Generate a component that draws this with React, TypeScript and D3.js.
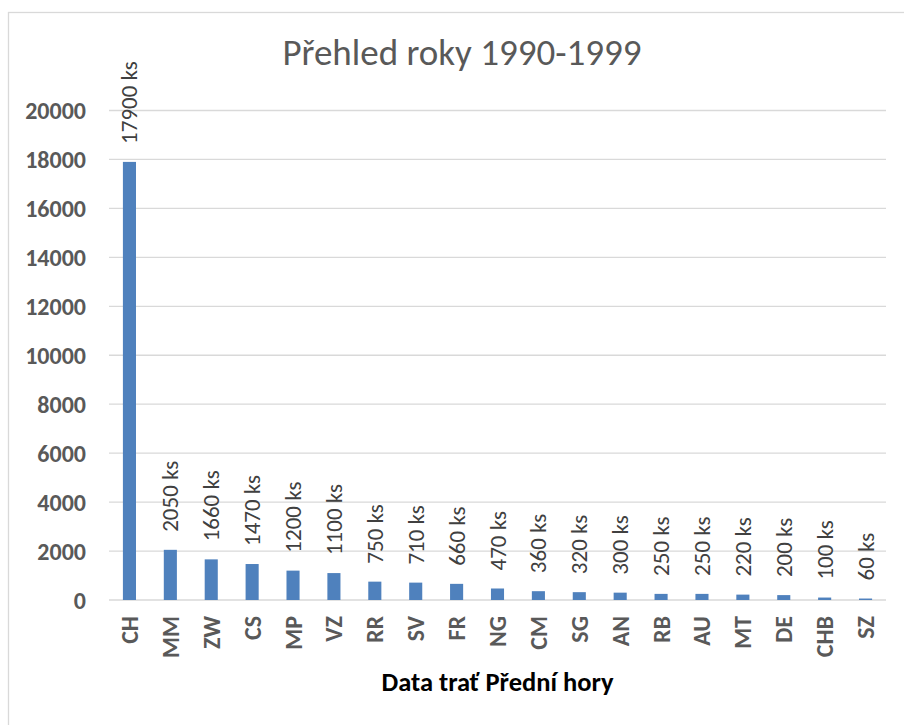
import React from "react";
import * as d3 from "d3";

const categories = ["CH", "MM", "ZW", "CS", "MP", "VZ", "RR", "SV", "FR", "NG", "CM", "SG", "AN", "RB", "AU", "MT", "DE", "CHB", "SZ"];
const values = [17900, 2050, 1660, 1470, 1200, 1100, 750, 710, 660, 470, 360, 320, 300, 250, 250, 220, 200, 100, 60];
const yTicks = [0, 2000, 4000, 6000, 8000, 10000, 12000, 14000, 16000, 18000, 20000];
const title = "Přehled roky 1990-1999";
const xTitle = "Data trať Přední hory";
const unit = " ks";

const W = 904;
const H = 725;
const plot = { left: 109, right: 886, top: 110.5, bottom: 600 };
const FONT = "Carlito, Calibri, 'Liberation Sans', Arial, sans-serif";

export default function App() {
  const x = d3.scaleBand<string>().domain(categories).range([plot.left, plot.right]).paddingInner(0).paddingOuter(0);
  const y = d3.scaleLinear().domain([0, 20000]).range([plot.bottom, plot.top]);
  const bw = x.bandwidth() * 0.32;

  return (
    <svg width={W} height={H} style={{ position: "absolute", left: 0, top: 0, background: "#fff" }}>
      <rect x={8.5} y={12.5} width={W + 20} height={H + 20} fill="#fff" stroke="#d9d9d9" strokeWidth={1.3} />
      <text x={462} y={65} textAnchor="middle" fontFamily={FONT} fontSize={37} fill="#595959">{title}</text>
      {yTicks.map((t) => (
        <g key={t}>
          <line x1={plot.left} x2={plot.right} y1={y(t)} y2={y(t)} stroke="#d9d9d9" strokeWidth={1.3} />
          <text x={86} y={y(t)} textAnchor="end" dominantBaseline="central" fontFamily={FONT} fontSize={24} fontWeight="bold" fill="#595959">{t}</text>
        </g>
      ))}
      {categories.map((c, i) => {
        const cx = (x(c) as number) + x.bandwidth() / 2;
        const top = y(values[i]);
        return (
          <g key={c}>
            <rect x={cx - bw / 2} y={top} width={bw} height={plot.bottom - top} fill="#4F81BD" />
            <text transform={`translate(${cx},${top - 18}) rotate(-90)`} textAnchor="start" dominantBaseline="central" fontFamily={FONT} fontSize={23} fill="#404040">{values[i] + unit}</text>
            <text transform={`translate(${cx},${616}) rotate(-90)`} textAnchor="end" dominantBaseline="central" fontFamily={FONT} fontSize={24} fontWeight="bold" fill="#595959">{c}</text>
          </g>
        );
      })}
      <text x={(plot.left + plot.right) / 2} y={691} textAnchor="middle" fontFamily={FONT} fontSize={26.5} fontWeight="bold" fill="#000">{xTitle}</text>
    </svg>
  );
}
